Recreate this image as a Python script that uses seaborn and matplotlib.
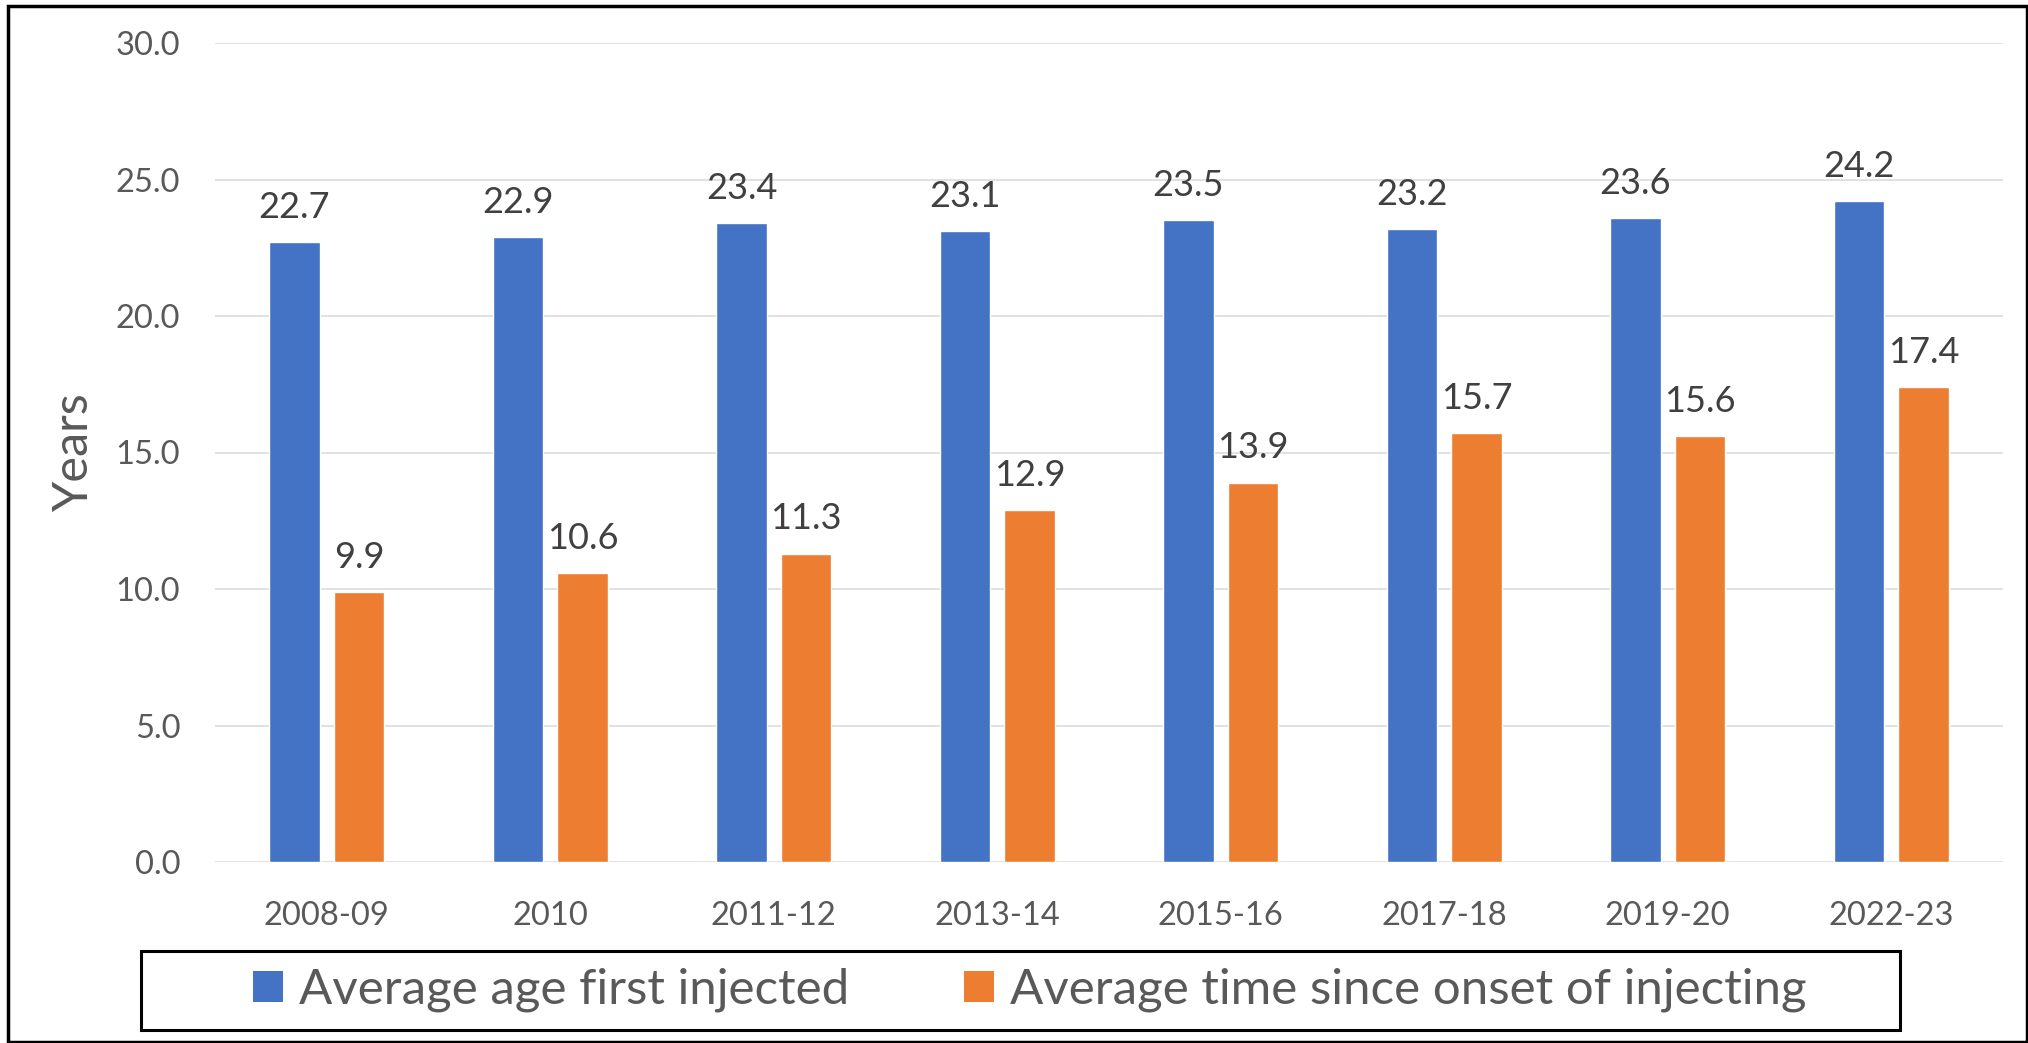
import pandas as pd
import seaborn as sns
from matplotlib import pyplot as plt
from matplotlib.patches import Patch, Rectangle

# chart data
periods = ["2008-09", "2010", "2011-12", "2013-14", "2015-16", "2017-18", "2019-20", "2022-23"]
age_first_injected = [22.7, 22.9, 23.4, 23.1, 23.5, 23.2, 23.6, 24.2]
time_since_onset = [9.9, 10.6, 11.3, 12.9, 13.9, 15.7, 15.6, 17.4]
series_names = ["Average age first injected", "Average time since onset of injecting"]
series_colors = ["#4472C4", "#ED7D31"]
y_ticks = [0, 5, 10, 15, 20, 25, 30]

df = pd.DataFrame({
    "period": periods * 2,
    "series": [series_names[0]] * len(periods) + [series_names[1]] * len(periods),
    "years": age_first_injected + time_since_onset,
})

sns.set_style("white")
plt.rcParams["font.family"] = ["Lato", "DejaVu Sans"]

fig = plt.figure(figsize=(20.28, 10.43), dpi=100)
ax = fig.add_axes([215 / 2028, 1 - 862 / 1043, (2003 - 215) / 2028, (862 - 43) / 1043])

sns.barplot(data=df, x="period", y="years", hue="series", order=periods,
            hue_order=series_names, palette=series_colors, width=0.578, gap=0.22,
            saturation=1, ax=ax, legend=False)

for cont in ax.containers:
    ax.bar_label(cont, fmt="%.1f", padding=13, fontsize=26, color="#404040")

ax.set_ylim(0, 30)
ax.set_yticks(y_ticks)
ax.set_yticklabels([f"{v:.1f}" for v in y_ticks])
ax.yaxis.grid(True, color="#D9D9D9", linewidth=1.1)
ax.set_axisbelow(True)
for s in ax.spines.values():
    s.set_visible(False)
ax.tick_params(axis="y", length=0, pad=25, labelsize=23.5, labelcolor="#595959")
ax.tick_params(axis="x", length=0, pad=28, labelsize=23.5, labelcolor="#595959")
ax.set_xlabel("")
ax.set_ylabel("Years", fontsize=35, color="#595959", labelpad=14)

# legend box below the plot
fig.patches.append(Rectangle((141 / 2028, 1 - 1030 / 1043), (1900 - 141) / 2028, 79 / 1043,
                             transform=fig.transFigure, fill=False, edgecolor="black", linewidth=2.2))
handles = [Patch(facecolor=c, edgecolor="none") for c in series_colors]
leg = fig.legend(handles, series_names, loc="center", ncol=2,
                 bbox_to_anchor=(1030 / 2028, 1 - 990 / 1043), frameon=False,
                 fontsize=35.5, handlelength=0.61, handleheight=0.61, handletextpad=0.32,
                 columnspacing=2.33, borderpad=0, borderaxespad=0)
for t in leg.get_texts():
    t.set_color("#595959")

# outer chart border
fig.patches.append(Rectangle((8 / 2028, 1 / 1043), 2019 / 2028, 1036 / 1043,
                             transform=fig.transFigure, fill=False, edgecolor="black", linewidth=2.5))

fig.savefig("out.png", dpi=100)
